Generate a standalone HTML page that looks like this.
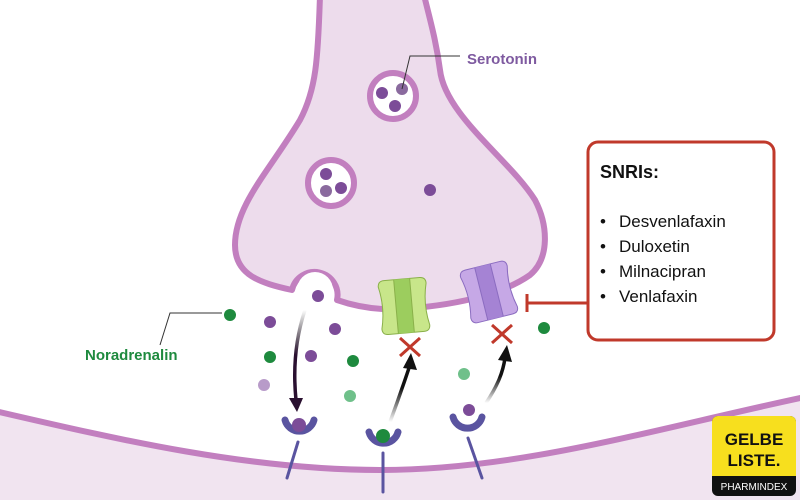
<!DOCTYPE html>
<html><head><meta charset="utf-8"><style>
html,body{margin:0;padding:0;background:#fff;}
svg{display:block}
text{font-family:"Liberation Sans",sans-serif;}
</style></head><body>
<svg width="800" height="500" viewBox="0 0 800 500" xmlns="http://www.w3.org/2000/svg">
<defs>
<linearGradient id="g1" x1="0" y1="0" x2="0" y2="1"><stop offset="0" stop-color="#000" stop-opacity="0"/><stop offset="0.5" stop-color="#2a1030"/></linearGradient>
<linearGradient id="g2" x1="0" y1="1" x2="0" y2="0"><stop offset="0" stop-color="#000" stop-opacity="0"/><stop offset="0.6" stop-color="#111"/></linearGradient>
</defs>
<rect width="800" height="500" fill="#fff"/>
<path d="M0,412 C120,440 250,470 380,470 C520,470 650,430 800,398 L800,500 L0,500 Z" fill="#f1e4f0"/>
<path d="M-5,411 C120,440 250,470 380,470 C520,470 650,430 805,397" fill="none" stroke="#c27fbf" stroke-width="6"/>
<path d="M320,-5 C318,60 316,90 300,120 C270,170 235,205 235,245 C235,275 260,283 292,290 A22,22 0 1 1 337,300 C360,308 380,310 400,309 C450,306 500,296 530,275 C550,258 548,225 535,200 C510,160 445,115 440,70 C436,40 430,20 424,-5 Z" fill="#eddcec" stroke="#c27fbf" stroke-width="6" stroke-linejoin="round"/>
<circle cx="315" cy="290" r="18" fill="#fff"/>
<circle cx="393" cy="96" r="23" fill="#fff" stroke="#c27fbf" stroke-width="6"/>
<circle cx="382" cy="93" r="6" fill="#7c4c98"/><circle cx="402" cy="89" r="6" fill="#8a6a9e"/><circle cx="395" cy="106" r="6" fill="#7c4c98"/>
<circle cx="331" cy="183" r="23" fill="#fff" stroke="#c27fbf" stroke-width="6"/>
<circle cx="326" cy="174" r="6" fill="#7c4c98"/><circle cx="326" cy="191" r="6" fill="#8a6a9e"/><circle cx="341" cy="188" r="6" fill="#7c4c98"/>
<circle cx="430" cy="190" r="6" fill="#7c4c98"/>
<path d="M402,89 L410,56 L460,56" fill="none" stroke="#333" stroke-width="1"/>
<text x="467" y="64" font-size="15" font-weight="bold" fill="#7e5aa0">Serotonin</text>
<!-- transporters -->
<g transform="translate(404,306) rotate(-5)">
<path d="M-18,-27 L18,-27 Q24,-27 24,-21 Q19,0 24,21 Q24,27 18,27 L-18,27 Q-24,27 -24,21 Q-19,0 -24,-21 Q-24,-27 -18,-27 Z" fill="#c8e68a" stroke="#8ab04a" stroke-width="1"/>
<path d="M-8,-27 L8,-27 L8,27 L-8,27 Z" fill="#9ccd5e"/>
<path d="M-8,-27 L-8,27 M8,-27 L8,27" stroke="#8ab04a" stroke-width="1"/>
</g>
<g transform="translate(489,292) rotate(-14)">
<path d="M-18,-27 L18,-27 Q24,-27 24,-21 Q19,0 24,21 Q24,27 18,27 L-18,27 Q-24,27 -24,21 Q-19,0 -24,-21 Q-24,-27 -18,-27 Z" fill="#c6a8e6" stroke="#8b6cc0" stroke-width="1"/>
<path d="M-8,-27 L8,-27 L8,27 L-8,27 Z" fill="#a583d4"/>
<path d="M-8,-27 L-8,27 M8,-27 L8,27" stroke="#8b6cc0" stroke-width="1"/>
</g>
<g stroke="#c0392b" stroke-width="3"><path d="M400,338 L420,356 M420,338 L400,356"/><path d="M492,325 L512,343 M512,325 L492,343"/></g>
<path d="M527,303 L590,303 M527,294 L527,312" stroke="#c0392b" stroke-width="3" fill="none"/>
<rect x="588" y="142" width="186" height="198" rx="10" fill="#fff" stroke="#c0392b" stroke-width="3"/>
<text x="600" y="178" font-size="18" font-weight="bold" fill="#111">SNRIs:</text>
<g font-size="17" fill="#111">
<text x="600" y="227">•</text><text x="619" y="227">Desvenlafaxin</text>
<text x="600" y="252">•</text><text x="619" y="252">Duloxetin</text>
<text x="600" y="277">•</text><text x="619" y="277">Milnacipran</text>
<text x="600" y="302">•</text><text x="619" y="302">Venlafaxin</text>
</g>
<g fill="#1e8a3e"><circle cx="230" cy="315" r="6"/><circle cx="270" cy="357" r="6"/><circle cx="353" cy="361" r="6"/><circle cx="544" cy="328" r="6"/></g>
<g fill="#7c4c98"><circle cx="270" cy="322" r="6"/><circle cx="335" cy="329" r="6"/><circle cx="311" cy="356" r="6"/><circle cx="318" cy="296" r="6"/></g>
<circle cx="264" cy="385" r="6" fill="#b89bc9"/>
<g fill="#6fc08a"><circle cx="350" cy="396" r="6"/><circle cx="464" cy="374" r="6"/></g>
<path d="M222,313 L170,313 L160,345" fill="none" stroke="#333" stroke-width="1"/>
<text x="85" y="360" font-size="15" font-weight="bold" fill="#1e8a3e">Noradrenalin</text>
<path d="M305,310 C295,340 293,370 296,400" fill="none" stroke="url(#g1)" stroke-width="3.5"/>
<path d="M289,398 L297,412 L303,398 Z" fill="#2a1030"/>
<path d="M390,422 C400,395 405,380 410,365" fill="none" stroke="url(#g2)" stroke-width="3.5"/>
<path d="M403,368 L411,353 L417,370 Z" fill="#111"/>
<path d="M486,403 C498,385 503,372 505,358" fill="none" stroke="url(#g2)" stroke-width="3.5"/>
<path d="M498,360 L507,345 L512,362 Z" fill="#111"/>
<!-- receptors -->
<g stroke="#5a54a0" fill="none" stroke-width="7" stroke-linecap="round">
<path d="M285,420 A15,15 0 0 0 314,420"/><path d="M298,442 L287,478" stroke-width="3"/>
<path d="M369,432 A15,15 0 0 0 398,432"/><path d="M383,453 L383,492" stroke-width="3"/>
<path d="M453,417 A15,15 0 0 0 482,417"/><path d="M468,438 L482,478" stroke-width="3"/>
</g>
<circle cx="299" cy="425" r="7" fill="#7c4c98"/>
<circle cx="383" cy="436" r="7" fill="#1e8a3e"/>
<circle cx="469" cy="410" r="6" fill="#7c4c98"/>
<rect x="712" y="416" width="84" height="80" rx="6" fill="#111"/>
<rect x="712" y="416" width="84" height="60" rx="6" fill="#f7df1e"/>
<rect x="712" y="470" width="84" height="6" fill="#f7df1e"/>
<text x="754" y="445" font-size="17" font-weight="bold" text-anchor="middle" fill="#111">GELBE</text>
<text x="754" y="466" font-size="17" font-weight="bold" text-anchor="middle" fill="#111">LISTE.</text>
<text x="754" y="490" font-size="10" text-anchor="middle" fill="#fff">PHARMINDEX</text>
</svg>
</body></html>
